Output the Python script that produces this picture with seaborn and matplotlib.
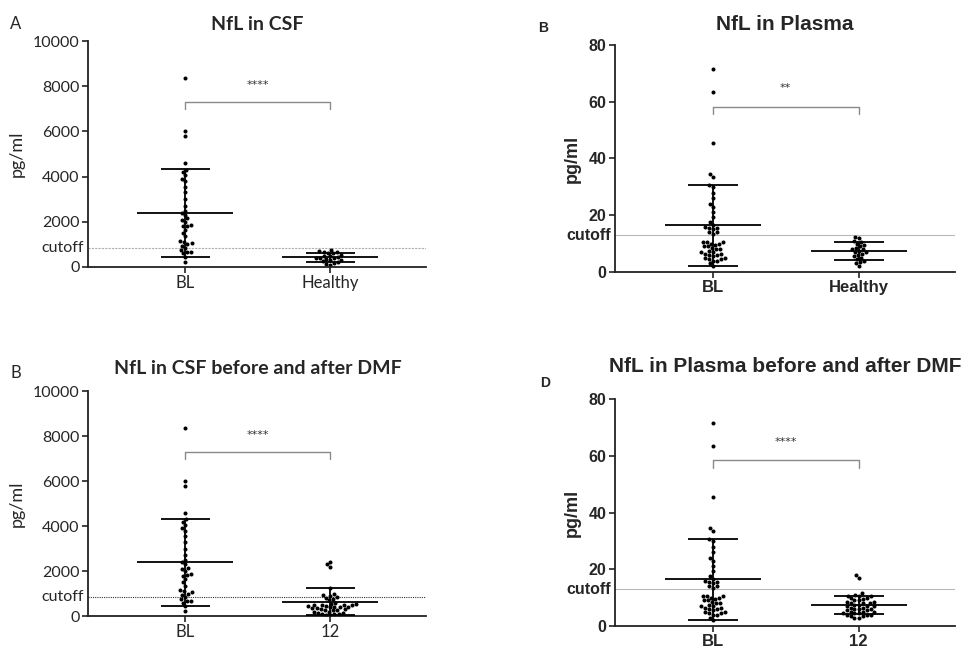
import matplotlib
matplotlib.use("Agg")
import matplotlib.pyplot as plt
import pandas as pd
import seaborn as sns

# values (pg/ml)
csf_bl = [8350, 6000, 5800, 4600, 4300, 4200, 4050, 3900, 3800, 3550, 3300,
          3000, 2700, 2500, 2400, 2300, 2150, 2100, 2000, 1850, 1830, 1800,
          1650, 1500, 1350, 1150, 1100, 1050, 1000, 950, 850, 750, 680, 650,
          600, 450, 230]
csf_healthy = [750, 700, 680, 650, 620, 600, 550, 500, 480, 450, 420, 400,
               380, 350, 330, 300, 250, 200, 180, 150, 100]
csf_m12 = [2400, 2300, 2200, 1250, 1000, 950, 900, 850, 800, 750, 700, 600,
           550, 520, 500, 500, 480, 480, 450, 450, 420, 400, 400, 380, 350,
           350, 300, 300, 280, 250, 250, 200, 200, 150, 150, 100, 100, 80, 50, 30]
plasma_bl = [71.5, 63.5, 45.5, 34.5, 33.5, 30.5, 30, 28, 26, 24, 23, 21, 19.5,
             17.5, 16.5, 16, 15.5, 15.5, 15, 14, 14, 13.5, 10.5, 10.5, 10.5, 10,
             10, 9.5, 9, 9, 8.5, 8, 8, 7.5, 7, 7, 6.5, 6.5, 6, 6, 5.5, 5, 5,
             4.5, 4.5, 4, 4, 3, 2]
plasma_healthy = [12.5, 12, 11, 10.5, 10, 9.5, 9, 8.5, 8, 8, 7.5, 7, 7, 6.5,
                  6, 5.5, 5, 4.5, 4, 3.5, 3, 2]
plasma_m12 = [18, 17, 11.5, 11, 10.5, 10.5, 10.5, 10, 10, 9.5, 9, 9, 8.5, 8.5,
              8, 8, 8, 7.5, 7.5, 7, 7, 7, 6.5, 6.5, 6, 6, 6, 5.5, 5.5, 5, 5, 5,
              4.5, 4.5, 4.5, 4, 4, 4, 3.5, 3.5, 3, 3]

# mean and SD bars as drawn
csf_bl_stats = (2380, 1940)
csf_healthy_stats = (440, 200)
csf_m12_stats = (640, 590)
plasma_bl_stats = (16.4, 14.4)
plasma_healthy_stats = (7.4, 3.0)
plasma_m12_stats = (7.4, 3.2)

csf_cutoff = 830
plasma_cutoff = 13

CALIBRI = ["Lato", "DejaVu Sans"]
ARIAL = ["Liberation Sans", "DejaVu Sans"]


def scatter_panel(ax, labels, series, stats, cutoff, ymax, ystep, stars,
                  bracket_y, stars_y, fam, weight, fsize, cut_color, cut_ls):
    df = pd.DataFrame({
        "group": [lab for lab, s in zip(labels, series) for _ in s],
        "value": [v for s in series for v in s],
    })
    sns.swarmplot(data=df, x="group", y="value", order=labels, color="black",
                  size=2.9, ax=ax, zorder=2)
    for i, (m, sd) in enumerate(stats):
        ax.vlines(i, max(m - sd, 0), m + sd, color="black", lw=1.3, zorder=3)
        ax.hlines(m, i - 0.33, i + 0.33, color="black", lw=1.3, zorder=3)
        ax.hlines([m - sd, m + sd], i - 0.17, i + 0.17, color="black", lw=1.3, zorder=3)
    ax.axhline(cutoff, color=cut_color, lw=0.8, ls=cut_ls, zorder=1)

    drop = ymax * 0.032
    ax.plot([0, 0, 1, 1], [bracket_y - drop, bracket_y, bracket_y, bracket_y - drop],
            color="#8a8a8a", lw=1.0)
    ax.text(0.5, stars_y, stars, ha="center", va="center", fontsize=8, color="#333333")

    ax.set_xlim(-0.67, 1.66)
    ax.set_ylim(0, ymax)
    ticks = list(range(0, ymax + 1, ystep))
    ax.set_yticks(ticks)
    ax.set_yticklabels([str(t) for t in ticks], family=fam, weight=weight, fontsize=fsize)
    ax.set_xticks(range(len(labels)))
    ax.set_xticklabels(labels, family=fam, weight=weight, fontsize=fsize + 0.5)
    ax.text(-0.012, cutoff, "cutoff", transform=ax.get_yaxis_transform(),
            ha="right", va="center", family=fam, weight=weight, fontsize=fsize)
    ax.set_xlabel("")
    ax.set_ylabel("pg/ml", family=fam, weight=weight, fontsize=fsize + 1.5, labelpad=6)
    sns.despine(ax=ax)
    for side in ("left", "bottom"):
        ax.spines[side].set_linewidth(1.3)
        ax.spines[side].set_color("#222222")
    ax.tick_params(direction="out", length=4, width=1.2, color="#222222", pad=2)


sns.set_style("ticks")
fig = plt.figure(figsize=(9.64, 6.49), dpi=100)
ax_a = fig.add_axes([0.0913, 0.5886, 0.3506, 0.3482])
ax_b = fig.add_axes([0.638, 0.5809, 0.3527, 0.3498])
ax_c = fig.add_axes([0.0913, 0.0508, 0.3506, 0.3467])
ax_d = fig.add_axes([0.638, 0.0354, 0.3527, 0.3498])

scatter_panel(ax_a, ["BL", "Healthy"], [csf_bl, csf_healthy],
              [csf_bl_stats, csf_healthy_stats], csf_cutoff, 10000, 2000,
              "****", 7300, 8050, CALIBRI, "normal", 11.5, "#b0b0b0", (0, (2, 1)))
scatter_panel(ax_b, ["BL", "Healthy"], [plasma_bl, plasma_healthy],
              [plasma_bl_stats, plasma_healthy_stats], plasma_cutoff, 80, 20,
              "**", 58.3, 64.8, ARIAL, "bold", 11.5, "#b8b8b8", "-")
scatter_panel(ax_c, ["BL", "12"], [csf_bl, csf_m12],
              [csf_bl_stats, csf_m12_stats], csf_cutoff, 10000, 2000,
              "****", 7300, 8050, CALIBRI, "normal", 11.5, "#333333", (0, (1, 1)))
scatter_panel(ax_d, ["BL", "12"], [plasma_bl, plasma_m12],
              [plasma_bl_stats, plasma_m12_stats], plasma_cutoff, 80, 20,
              "****", 58.4, 64.8, ARIAL, "bold", 11.5, "#b8b8b8", "-")

# titles and panel letters
fig.text(257 / 964, 1 - 24 / 649, "NfL in CSF", ha="center", va="center",
         family=CALIBRI, weight="bold", fontsize=14)
fig.text(785 / 964, 1 - 24 / 649, "NfL in Plasma", ha="center", va="center",
         family=ARIAL, weight="bold", fontsize=15)
fig.text(258 / 964, 1 - 368 / 649, "NfL in CSF before and after DMF", ha="center",
         va="center", family=CALIBRI, weight="bold", fontsize=14)
fig.text(785 / 964, 1 - 367 / 649, "NfL in Plasma before and after DMF", ha="center",
         va="center", family=ARIAL, weight="bold", fontsize=15)
fig.text(16 / 964, 1 - 24 / 649, "A", ha="center", va="center", family=CALIBRI, fontsize=12)
fig.text(543 / 964, 1 - 28 / 649, "B", ha="center", va="center", family=ARIAL,
         weight="bold", fontsize=10)
fig.text(16 / 964, 1 - 373 / 649, "B", ha="center", va="center", family=CALIBRI, fontsize=12)
fig.text(545 / 964, 1 - 383 / 649, "D", ha="center", va="center", family=ARIAL,
         weight="bold", fontsize=10)

fig.savefig("out.png", dpi=100)
